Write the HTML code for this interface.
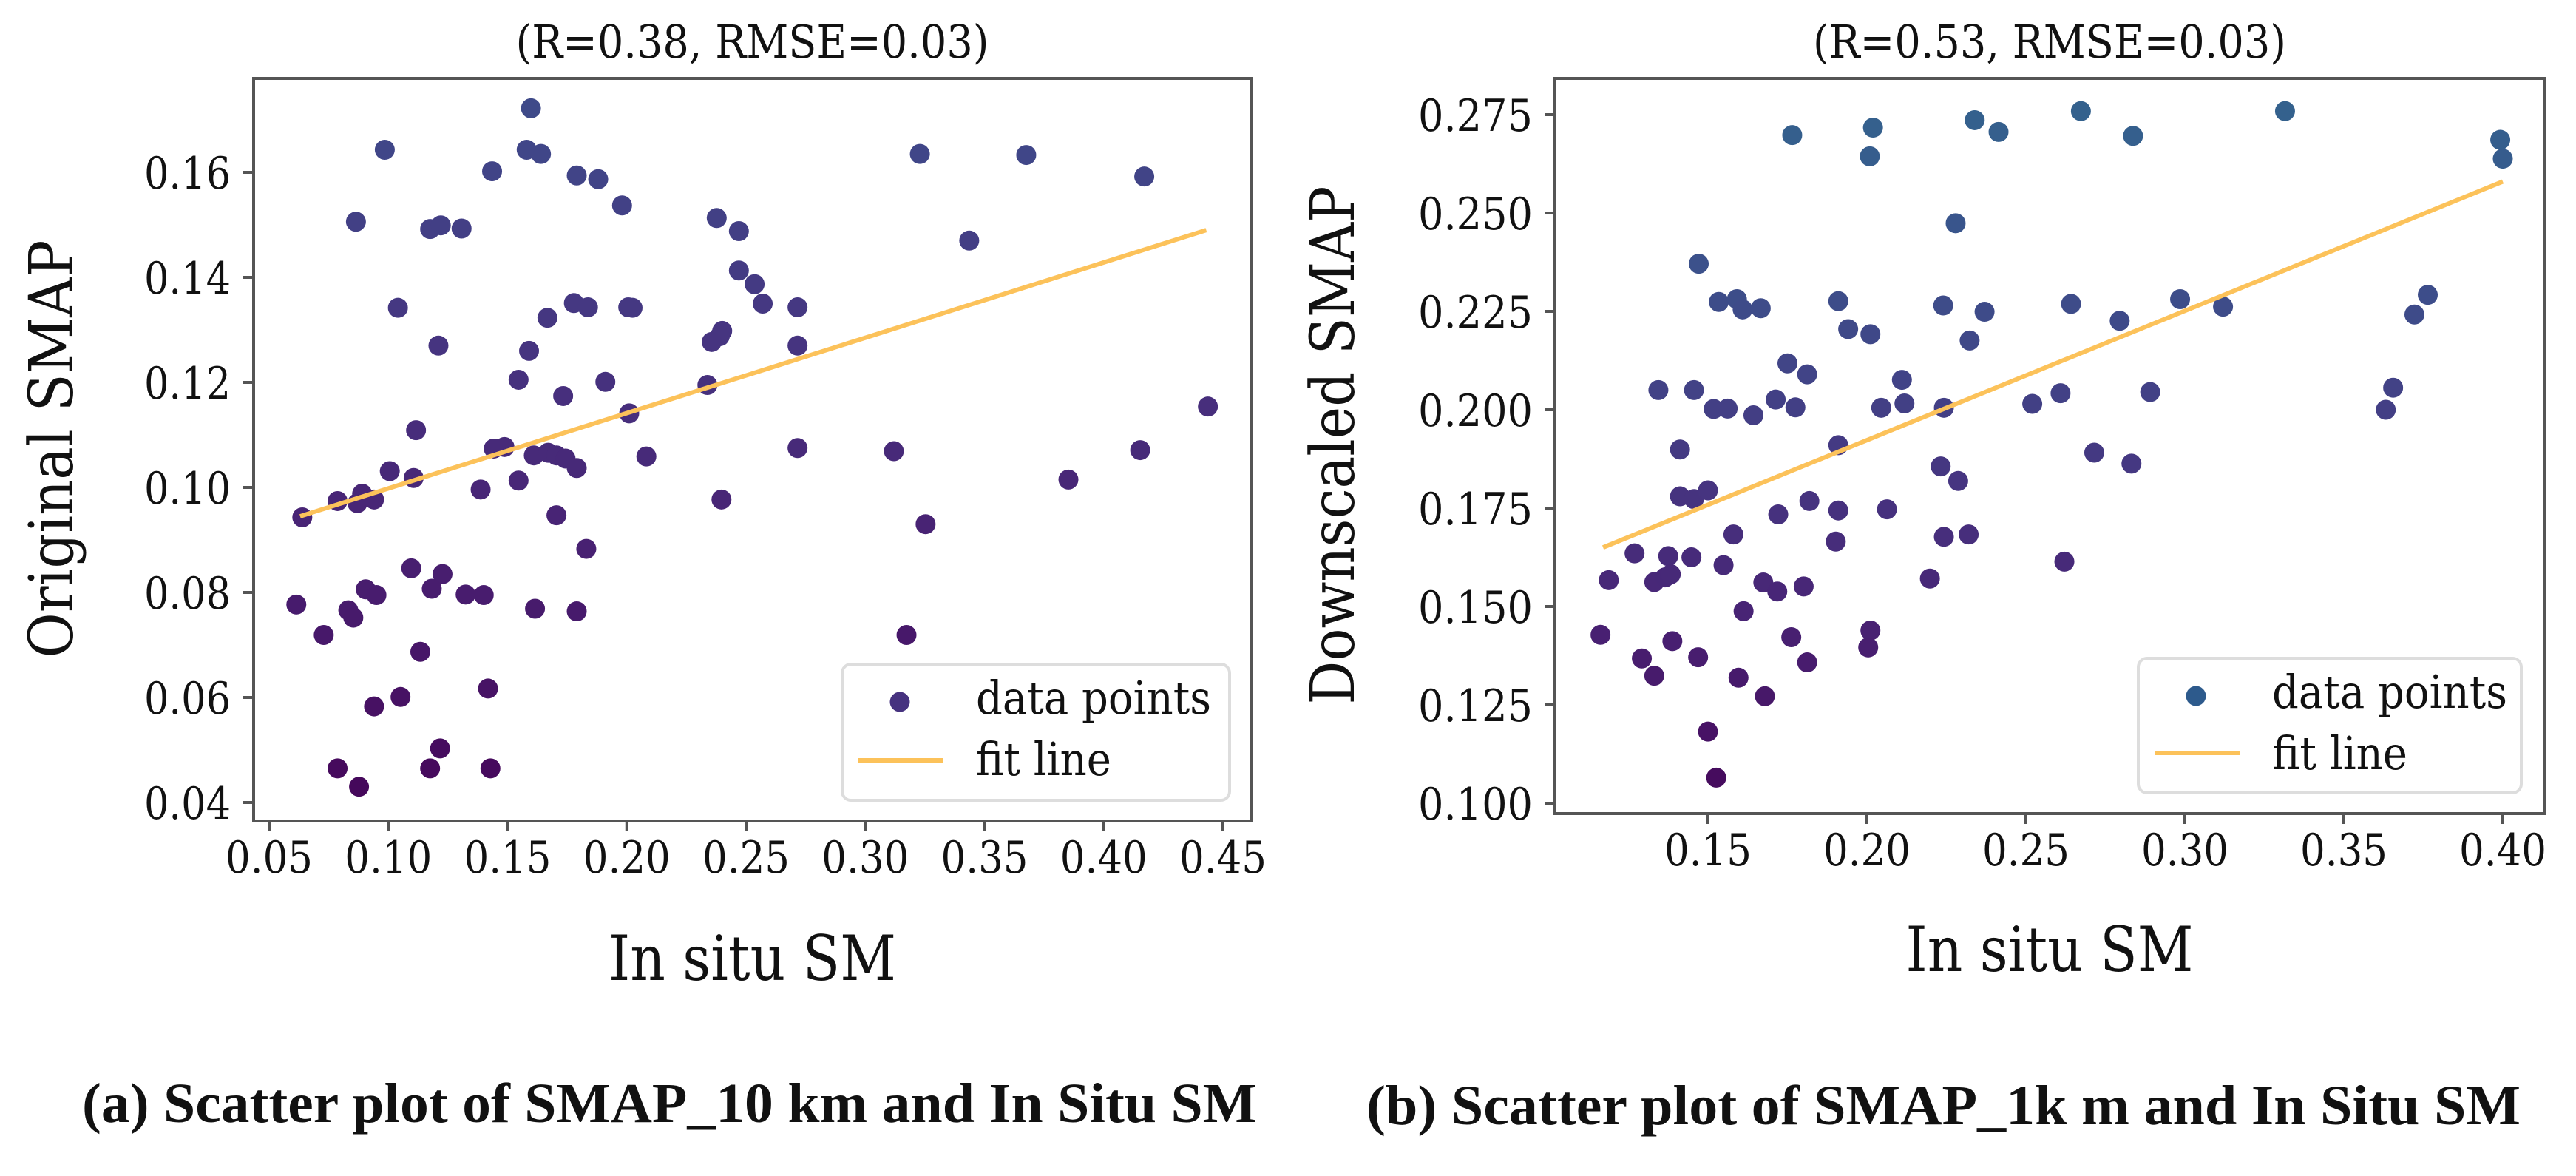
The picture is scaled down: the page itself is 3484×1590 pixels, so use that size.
<!DOCTYPE html>
<html><head><meta charset="utf-8"><style>
html,body{margin:0;padding:0;background:#fff;}
svg{display:block;}
text{font-family:"DejaVu Serif","Liberation Serif",serif;fill:#111;}
.cap{font-family:"Liberation Serif",serif;font-weight:bold;}
</style></head><body>
<svg id="fig" width="3484" height="1590" viewBox="0 0 3484 1590" xmlns="http://www.w3.org/2000/svg">
<rect width="3484" height="1590" fill="#fff"/>
<g id="pa"></g>
<g id="pb"></g>
<text class="cap" x="111" y="1517" font-size="76" textLength="1589" lengthAdjust="spacingAndGlyphs">(a) Scatter plot of SMAP_10 km and In Situ SM</text>
<text class="cap" x="1848" y="1520" font-size="76" textLength="1561" lengthAdjust="spacingAndGlyphs">(b) Scatter plot of SMAP_1k m and In Situ SM</text>
</svg>
<script>
const aX=[0.1598,0.0985,0.158,0.164,0.1435,0.179,0.188,0.198,0.0864,0.1175,0.122,0.1307,0.2377,0.247,0.3229,0.3675,0.417,0.3436,0.247,0.2536,0.257,0.2716,0.104,0.1778,0.1837,0.2006,0.2024,0.1667,0.121,0.159,0.24,0.239,0.2356,0.2716,0.1546,0.191,0.1733,0.2338,0.201,0.1116,0.1442,0.1487,0.161,0.167,0.1705,0.1743,0.179,0.2082,0.2716,0.312,0.4153,0.4437,0.1006,0.1106,0.1546,0.1387,0.3852,0.0787,0.087,0.089,0.094,0.0639,0.2397,0.1705,0.3253,0.183,0.1096,0.1227,0.1182,0.0905,0.095,0.1324,0.14,0.0614,0.0832,0.0853,0.1615,0.179,0.0729,0.3173,0.1134,0.1418,0.1051,0.094,0.1217,0.0787,0.1175,0.1428,0.0877];
const aY=[0.1722,0.1643,0.1643,0.1635,0.1602,0.1594,0.1587,0.1537,0.1506,0.1492,0.1499,0.1493,0.1513,0.1488,0.1635,0.1633,0.1592,0.147,0.1413,0.1387,0.135,0.1343,0.1342,0.1351,0.1343,0.1343,0.1342,0.1323,0.127,0.126,0.1298,0.1288,0.1277,0.127,0.1205,0.1201,0.1174,0.1195,0.1141,0.1109,0.1074,0.1077,0.1061,0.1066,0.1061,0.1055,0.1037,0.1059,0.1075,0.1069,0.1071,0.1154,0.1031,0.1018,0.1013,0.0996,0.1015,0.0974,0.097,0.0988,0.0977,0.0943,0.0977,0.0947,0.093,0.0883,0.0846,0.0835,0.0807,0.0806,0.0795,0.0796,0.0795,0.0777,0.0766,0.0752,0.0769,0.0764,0.0719,0.0719,0.0687,0.0617,0.0601,0.0583,0.0503,0.0465,0.0465,0.0465,0.043];
const aFit=[[0.063,0.0945],[0.443,0.149]];
const aXTicks=[0.05,0.10,0.15,0.20,0.25,0.30,0.35,0.40,0.45];
const aYTicks=[0.04,0.06,0.08,0.10,0.12,0.14,0.16];
const bX=[0.1765,0.2019,0.2009,0.2339,0.2414,0.2673,0.2837,0.3315,0.3992,0.40,0.2279,0.1471,0.1534,0.1591,0.1609,0.1666,0.191,0.1941,0.2011,0.224,0.2323,0.237,0.2642,0.2795,0.2985,0.312,0.3722,0.3764,0.1344,0.1456,0.1518,0.1562,0.1643,0.1713,0.1775,0.175,0.1812,0.211,0.2118,0.2045,0.2242,0.252,0.2609,0.2891,0.3632,0.3655,0.1412,0.191,0.2715,0.2832,0.2232,0.2287,0.1412,0.1456,0.15,0.1819,0.1721,0.191,0.2063,0.1269,0.1375,0.1448,0.158,0.1902,0.2242,0.232,0.2621,0.1188,0.1331,0.1365,0.1383,0.1549,0.1674,0.1718,0.1801,0.2198,0.1612,0.1162,0.1388,0.1762,0.2011,0.2004,0.1292,0.1469,0.1331,0.1812,0.1596,0.1679,0.15,0.1526];
const bY=[0.2698,0.2717,0.2644,0.2736,0.2706,0.2759,0.2696,0.2759,0.2686,0.2638,0.2474,0.2371,0.2274,0.2281,0.2255,0.2258,0.2276,0.2205,0.2192,0.2265,0.2176,0.2249,0.2269,0.2226,0.2281,0.2262,0.2242,0.2292,0.205,0.205,0.2002,0.2003,0.1986,0.2026,0.2006,0.2118,0.209,0.2076,0.2016,0.2005,0.2005,0.2015,0.2042,0.2045,0.2000,0.2056,0.1899,0.191,0.1891,0.1863,0.1856,0.1819,0.178,0.1773,0.1795,0.1768,0.1734,0.1744,0.1747,0.1635,0.1628,0.1625,0.1683,0.1665,0.1677,0.1683,0.1614,0.1567,0.1562,0.1574,0.1582,0.1605,0.1561,0.1538,0.1551,0.1571,0.1488,0.1428,0.1412,0.1422,0.1439,0.1396,0.1368,0.1371,0.1324,0.1358,0.1319,0.1272,0.1182,0.1065];
const bFit=[[0.117,0.165],[0.40,0.258]];
const bXTicks=[0.15,0.20,0.25,0.30,0.35,0.40];
const bYTicks=[0.100,0.125,0.150,0.175,0.200,0.225,0.250,0.275];

const NS='http://www.w3.org/2000/svg';
const VIR=[[68,1,84],[71,19,101],[72,36,117],[70,52,128],[65,68,135],[59,82,139],[53,95,141],[48,106,142],[44,114,142]];
function vir(t){t=Math.max(0,Math.min(0.4,t))/0.05;const i=Math.min(7,Math.floor(t)),f=t-i;const a=VIR[i],b=VIR[i+1];
return 'rgb('+a.map((v,k)=>Math.round(v+(b[k]-v)*f)).join(',')+')';}
function mk(tag,at,parent){const e=document.createElementNS(NS,tag);for(const k in at)e.setAttribute(k,at[k]);parent.appendChild(e);return e;}

function panel(g,cfg){
  const sx=v=>cfg.x0+(v-cfg.vx0)*cfg.kx, sy=v=>cfg.y0-(v-cfg.vy0)*cfg.ky;
  const fr=mk('rect',{x:cfg.L,y:cfg.T,width:cfg.R-cfg.L,height:cfg.B-cfg.T,fill:'none',stroke:'#555','stroke-width':4},g);
  
  
  cfg.xt.forEach(v=>{const x=sx(v);
    const t=mk('line',{x1:x,x2:x,y1:cfg.B,y2:cfg.B+14,stroke:'#555','stroke-width':4},g);
    
    
    const l=mk('text',{x:x,y:cfg.xlb,'font-size':60,'text-anchor':'middle',textLength:118,lengthAdjust:'spacingAndGlyphs'},g);
    l.textContent=v.toFixed(2);
    
    });
  cfg.yt.forEach(v=>{const y=sy(v);
    const t=mk('line',{x1:cfg.L-14,x2:cfg.L,y1:y,y2:y,stroke:'#555','stroke-width':4},g);
    
    
    const s=v.toFixed(cfg.yd);
    const l=mk('text',{x:cfg.ylr,y:y+22,'font-size':60,'text-anchor':'end',textLength:cfg.ylw,lengthAdjust:'spacingAndGlyphs'},g);
    l.textContent=s;
    
    });
  cfg.X.forEach((xv,i)=>{const yv=cfg.Y[i];
    const c=mk('circle',{cx:sx(xv),cy:sy(yv),r:13.5,fill:vir(cfg.c0+(yv-cfg.ymin)/(cfg.ymax-cfg.ymin)*cfg.cr)},g);
    
    });
  const f=cfg.F;
  const fl=mk('line',{x1:sx(f[0][0]),y1:sy(f[0][1]),x2:sx(f[1][0]),y2:sy(f[1][1]),stroke:'#fcc25a','stroke-width':6},g);
  
  
  const lg=mk('rect',{x:cfg.lg[0],y:cfg.lg[1],width:cfg.lg[2]-cfg.lg[0],height:cfg.lg[3]-cfg.lg[1],rx:12,fill:'#fff',stroke:'#ddd','stroke-width':4},g);
  
  
  const lm=mk('circle',{cx:cfg.lm[0],cy:cfg.lm[1],r:13.5,fill:cfg.lmc},g);
  
  
  const ll=mk('line',{x1:cfg.ll[0],x2:cfg.ll[1],y1:cfg.ll[2],y2:cfg.ll[2],stroke:'#fcc25a','stroke-width':6},g);
  
  
  const t1=mk('text',{x:cfg.lt[0],y:cfg.lt[1],'font-size':62,textLength:318,lengthAdjust:'spacingAndGlyphs'},g);
  t1.textContent='data points';
  
  
  const t2=mk('text',{x:cfg.lt[0],y:cfg.lt[2],'font-size':62,textLength:183,lengthAdjust:'spacingAndGlyphs'},g);
  t2.textContent='fit line';
  
  
  const ti=mk('text',{x:(cfg.L+cfg.R)/2,y:78,'font-size':62,'text-anchor':'middle',textLength:640,lengthAdjust:'spacingAndGlyphs'},g);
  ti.textContent=cfg.title;
  
  
  const xl=mk('text',{x:(cfg.L+cfg.R)/2,y:cfg.xlab,'font-size':84,'text-anchor':'middle',textLength:389,lengthAdjust:'spacingAndGlyphs'},g);
  xl.textContent='In situ SM';
  
  
  const yl=mk('text',{x:0,y:0,'font-size':82,'text-anchor':'middle',textLength:cfg.yll[2],lengthAdjust:'spacingAndGlyphs',transform:'translate('+cfg.yll[0]+','+cfg.yll[1]+') rotate(-90)'},g);
  yl.textContent=cfg.ylabel;
  
  
}
panel(document.getElementById('pa'),{L:343,R:1692,T:106,B:1110,x0:364,vx0:0.05,kx:3225,y0:1085,vy0:0.04,ky:7100,
 xt:aXTicks,yt:aYTicks,yd:2,xlb:1180,ylr:312,ylw:117,X:aX,Y:aY,F:aFit,ymin:0.043,ymax:0.172,c0:0.02,cr:0.2,
 lg:[1139,898,1663,1082],lm:[1217,949],lmc:'rgb(70,50,127)',ll:[1161,1276,1028],lt:[1320,965,1048],
 title:'(R=0.38, RMSE=0.03)',xlab:1325,ylabel:'Original SMAP',yll:[98,607,565]});
panel(document.getElementById('pb'),{L:2103,R:3441,T:106,B:1100,x0:2310,vx0:0.15,kx:4300,y0:1086,vy0:0.10,ky:5320,
 xt:bXTicks,yt:bYTicks,yd:3,xlb:1170,ylr:2073,ylw:155,X:bX,Y:bY,F:bFit,ymin:0.107,ymax:0.276,c0:0.03,cr:0.28,
 lg:[2892,890,3410,1072],lm:[2970,941],lmc:'rgb(45,90,140)',ll:[2914,3029,1018],lt:[3073,957,1040],
 title:'(R=0.53, RMSE=0.03)',xlab:1313,ylabel:'Downscaled SMAP',yll:[1831,602,701]});
</script>
</body></html>
